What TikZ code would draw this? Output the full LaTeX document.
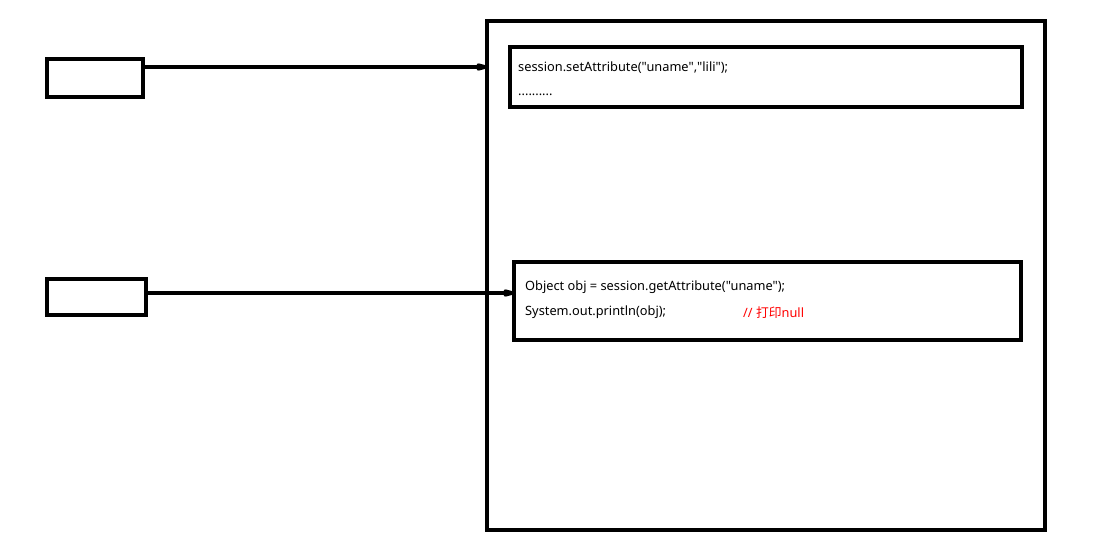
\documentclass[tikz,border=0pt]{standalone}
\usepackage{fontspec}
\setmainfont{Noto Sans}[Ligatures=TeXOff]
\newfontfamily\cjk{Noto Sans CJK SC}
\usetikzlibrary{arrows.meta}
\tikzset{
  box/.style={draw, line width=4.5pt, inner sep=0pt, outer sep=0pt},
  code/.style={anchor=base west, inner sep=0pt, font=\fontsize{12.8}{14}\selectfont},
  link/.style={line width=3.6pt, -{Triangle[length=18pt,width=7pt,round]}}
}
\begin{document}
\begin{tikzpicture}[x=1pt,y=-1pt]
  \useasboundingbox (0,0) rectangle (1107,556);
  \node[box, minimum width=96, minimum height=38] (client1) at (95,78) {};
  \node[box, minimum width=99, minimum height=36] (client2) at (96.5,297) {};
  \node[box, minimum width=558, minimum height=509] (server) at (766,275.5) {};
  \node[box, minimum width=512, minimum height=60] (setbox) at (766,77) {};
  \node[box, minimum width=507, minimum height=78] (getbox) at (767.5,301) {};
  \node[code] (set) at (518,71.5) {session.setAttribute("uname","lili");};
  \node[code] (dots) at (518,96) {..........};
  \node[code] (get) at (525,290.5) {Object obj = session.getAttribute("uname");};
  \node[code] (print) at (525,315.5) {System.out.println(obj);};
  \node[code, text=red] (note) at (743,317.5) {// {\cjk 打印}null};
  \coordinate (in1) at (server.west |- 0,67);
  \coordinate (in2) at (getbox.west |- 0,293);
  \draw[link] (client1.east |- in1) -- (in1);
  \draw[link] (client2.east |- in2) -- (in2);
\end{tikzpicture}
\end{document}
